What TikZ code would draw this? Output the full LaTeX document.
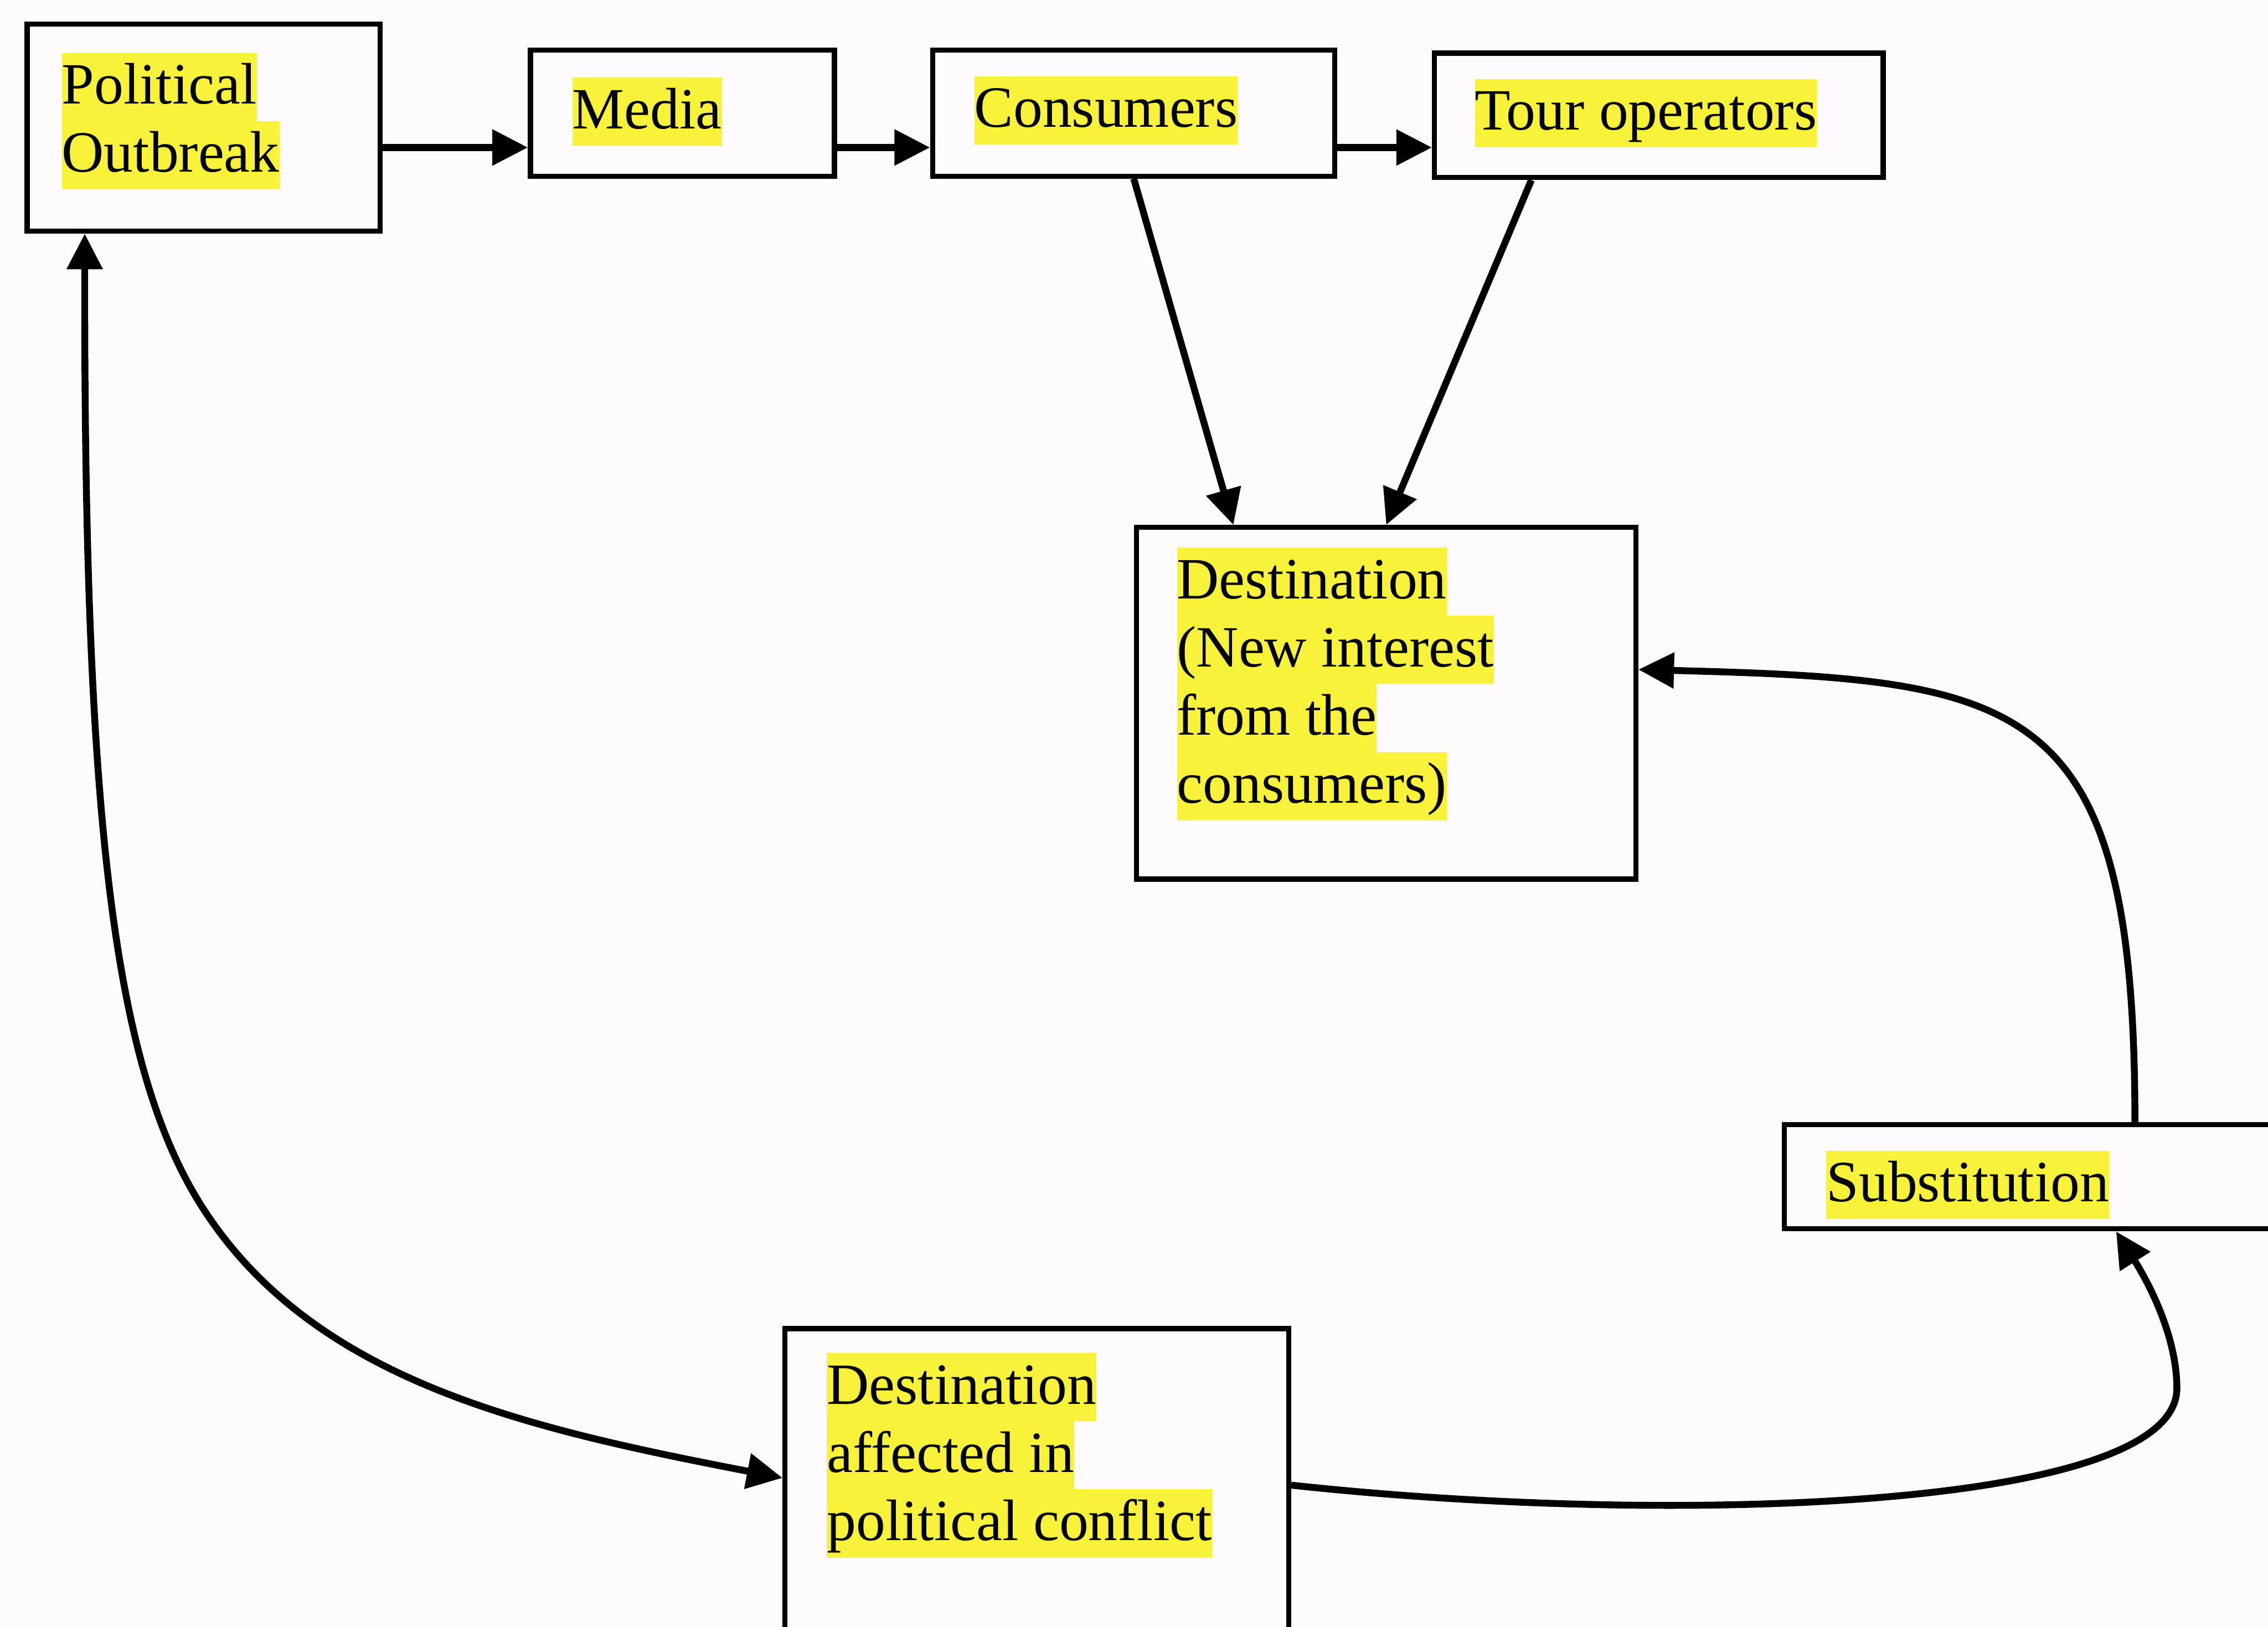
\documentclass[tikz,border=0pt]{standalone}
\usepackage{fontspec}
\setmainfont{Liberation Serif}
\usetikzlibrary{arrows.meta,calc}
\definecolor{hly}{RGB}{248,243,58}
\definecolor{paper}{RGB}{253,251,254}
\setlength{\fboxsep}{0pt}
% highlighted line of text, one baselineskip tall
\newcommand{\hl}[1]{\colorbox{hly}{\rule[-3.4pt]{0pt}{13.4pt}#1}}

\begin{document}
\begin{tikzpicture}[x=0.01cm,y=-0.01cm,
  box/.style={draw=black, line width=1pt, rectangle, inner sep=0pt, anchor=north west},
  lbl/.style={anchor=north west, inner sep=0pt, align=left, font=\fontsize{11.5}{13.4}\selectfont},
  tip/.tip={Triangle[length=7pt,width=6.8pt]},
  flow/.style={line width=1.35pt, -tip},
  twoway/.style={line width=1.35pt, tip-tip},
]
\path[use as bounding box, fill=paper] (0,0) rectangle (1568,1125);
\clip (0,0) rectangle (1568,1125);

% boxes
\node[box, minimum width=2.44cm, minimum height=1.43cm] (po)    at (17,15)   {};
\node[box, minimum width=2.10cm, minimum height=0.87cm] (media) at (365,33)  {};
\node[box, minimum width=2.78cm, minimum height=0.87cm] (cons)  at (643,33)  {};
\node[box, minimum width=3.10cm, minimum height=0.86cm] (tour)  at (990,35)  {};
\node[box, minimum width=3.45cm, minimum height=2.43cm] (dest)  at (784,363) {};
\node[box, minimum width=5.00cm, minimum height=0.72cm] (sub)   at (1232,776){};
\node[box, minimum width=3.48cm, minimum height=3.50cm] (da)    at (541,917) {};

% labels
\node[lbl] (potx)   at (42,36)   {\hl{Political}\\\hl{Outbreak}};
\node[lbl] (medtx)  at (395,53)  {\hl{Media}};
\node[lbl] (constx) at (673,52)  {\hl{Consumers}};
\node[lbl] (tourtx) at (1019,54) {\hl{Tour operators}};
\node[lbl] (desttx) at (813,378) {\hl{Destination}\\\hl{(New interest}\\\hl{from the}\\\hl{consumers)}};
\node[lbl] (subtx)  at (1262,795){\hl{Substitution}};
\node[lbl] (datx)   at (571,935) {\hl{Destination}\\\hl{affected in}\\\hl{political conflict}};

% top row of arrows
\coordinate (row) at (0,102);
\draw[flow] (po.east |- row) -- (media.west |- row);
\draw[flow] (media.east |- row) -- (cons.west |- row);
\draw[flow] (cons.east |- row) -- (tour.west |- row);

% into the new-interest destination
\draw[flow] (cons.south) -- ($(dest.north west)!0.197!(dest.north east)$);
\draw[flow] ($(tour.south west)!0.219!(tour.south east)$) -- (dest.north);

% substitution feeds the new destination
\draw[flow] ($(sub.north west)+(244,0)$) .. controls (1476,480) and (1400,470) .. ($(dest.north east)+(0,100)$);

% affected destination leads to substitution
\draw[flow] ($(da.north east)+(0,110)$) .. controls (1150,1055) and (1505,1045) .. (1505,960)
  .. controls (1505,920) and (1481,880) .. ($(sub.south west)+(231,0)$);

% loop between the outbreak and the affected destination
\draw[twoway] ($(po.south west)!0.168!(po.south east)$) .. controls (58,580) and (80,750) .. (146,844)
  .. controls (224,956) and (365,988) .. ($(da.north west)+(0,105)$);
\end{tikzpicture}
\end{document}
